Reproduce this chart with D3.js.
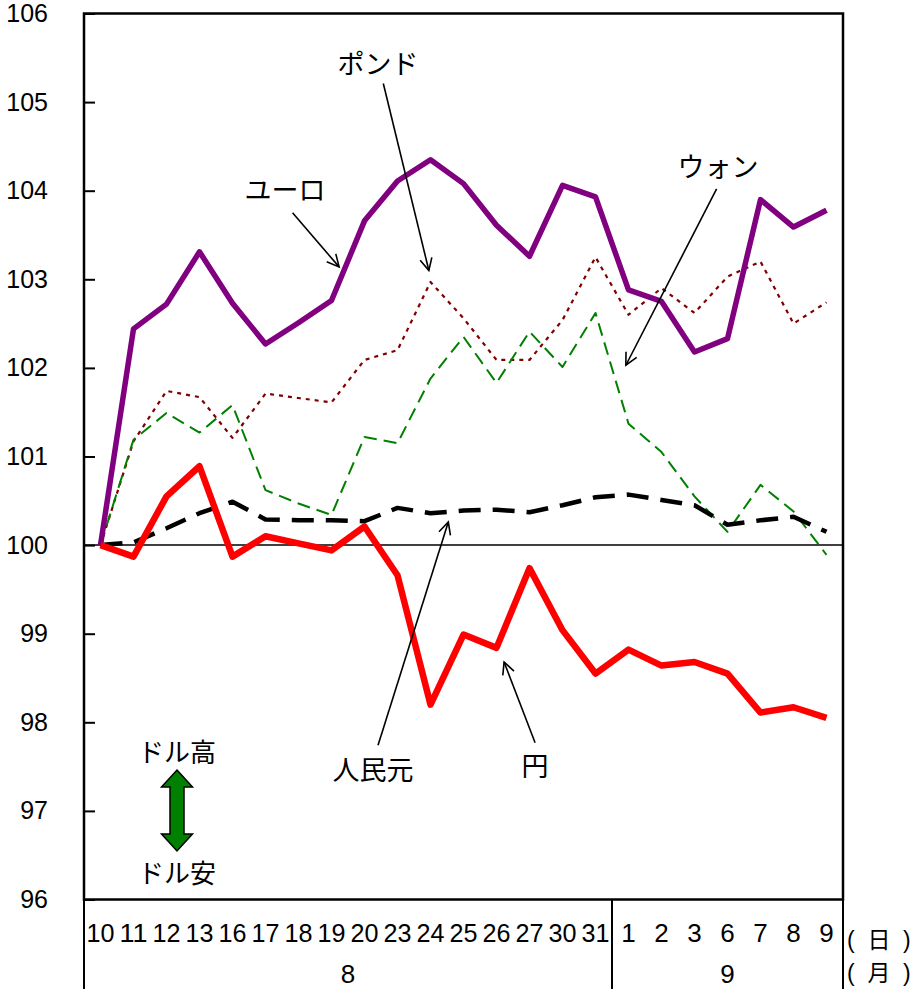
<!DOCTYPE html>
<html>
<head>
<meta charset="utf-8">
<script src="https://cdn.jsdelivr.net/npm/d3@7"></script>
<style>
  body { margin: 0; background: #fff; }
  svg { display: block; }
</style>
</head>
<body>
<svg id="chart" width="914" height="989"></svg>
<script>
// days on the x axis, grouped by month
const days = ["10","11","12","13","16","17","18","19","20","23","24","25","26","27","30","31","1","2","3","6","7","8","9"]
const months = [
  {label: "8", first: 0, last: 15},
  {label: "9", first: 16, last: 22}
]
const yTicks = [96, 97, 98, 99, 100, 101, 102, 103, 104, 105, 106]

// index values (10 Aug = 100)
const euro  = [100, 102.44, 102.72, 103.31, 102.73, 102.27, 102.51, 102.76, 103.66, 104.11, 104.35, 104.08, 103.61, 103.26, 104.06, 103.93, 102.88, 102.75, 102.18, 102.33, 103.90, 103.59, 103.78]
const pound = [100, 101.17, 101.74, 101.67, 101.21, 101.71, 101.66, 101.61, 102.09, 102.20, 102.97, 102.56, 102.09, 102.09, 102.54, 103.25, 102.60, 102.90, 102.62, 103.03, 103.20, 102.50, 102.74]
const won   = [100, 101.19, 101.49, 101.27, 101.58, 100.62, 100.47, 100.34, 101.22, 101.15, 101.88, 102.35, 101.83, 102.41, 102.01, 102.62, 101.37, 101.05, 100.55, 100.15, 100.68, 100.38, 99.89]
const yuan  = [100, 100.03, 100.19, 100.36, 100.49, 100.29, 100.28, 100.28, 100.27, 100.42, 100.36, 100.39, 100.40, 100.37, 100.45, 100.54, 100.57, 100.51, 100.45, 100.23, 100.28, 100.32, 100.15]
const yen   = [100, 99.87, 100.55, 100.89, 99.87, 100.10, 100.02, 99.94, 100.21, 99.66, 98.20, 98.99, 98.84, 99.74, 99.04, 98.55, 98.82, 98.64, 98.68, 98.55, 98.11, 98.17, 98.05]

const plotLeft = 84, plotRight = 843, plotTop = 13.5, plotBottom = 899.5
const numFont = '"Liberation Sans", Arial, sans-serif'
const jpFont = '"Noto Sans CJK JP", "Noto Sans", sans-serif'

const svg = d3.select('#chart')
svg.append('rect').attr('width', 914).attr('height', 989).attr('fill', '#fff')

const x = d3.scaleBand().domain(d3.range(days.length)).range([plotLeft, plotRight]).padding(0)
const xc = i => x(0) + (i + 0.5) * x.bandwidth()   // also works for fractional index
const y = d3.scaleLinear().domain([96, 106]).range([plotBottom, plotTop])

// arrow marker for the labels
svg.append('defs').append('marker')
  .attr('id', 'arrow')
  .attr('markerUnits', 'userSpaceOnUse')
  .attr('markerWidth', 16).attr('markerHeight', 16)
  .attr('viewBox', '0 0 16 16')
  .attr('refX', 13).attr('refY', 8)
  .attr('orient', 'auto')
  .append('path')
  .attr('d', 'M1,2 L13,8 L1,14')
  .attr('fill', 'none')
  .attr('stroke', '#000')
  .attr('stroke-width', 1.6)

// y axis, ticks inside
const yAxis = svg.append('g')
  .attr('transform', `translate(${plotLeft},0)`)
  .call(d3.axisLeft(y).tickValues(yTicks).tickSize(-11).tickPadding(36).tickFormat(d3.format('d')))
yAxis.select('.domain').remove()
yAxis.selectAll('line').attr('stroke', '#000').attr('stroke-width', 2)
yAxis.selectAll('text')
  .attr('font-family', numFont)
  .attr('font-size', 25)
  .attr('fill', '#000')

// 100 baseline
svg.append('line')
  .attr('x1', plotLeft).attr('x2', plotRight)
  .attr('y1', y(100)).attr('y2', y(100))
  .attr('stroke', '#000').attr('stroke-width', 1.5)

// series
const line = d3.line().x((d, i) => xc(i)).y(d => y(d))
const series = [
  {data: pound, color: '#800000', width: 2.2, dash: '4,5'},
  {data: won,   color: '#008000', width: 2,   dash: '13,7'},
  {data: yuan,  color: '#000000', width: 4.5, dash: '22,12'},
  {data: euro,  color: '#800080', width: 5.5, dash: null},
  {data: yen,   color: '#ff0000', width: 6.5, dash: null}
]
svg.selectAll('.series').data(series)
  .join('path')
  .attr('class', 'series')
  .attr('d', d => line(d.data))
  .attr('fill', 'none')
  .attr('stroke', d => d.color)
  .attr('stroke-width', d => d.width)
  .attr('stroke-dasharray', d => d.dash)
  .attr('stroke-linejoin', 'round')

// frame
svg.append('rect')
  .attr('x', plotLeft).attr('y', plotTop)
  .attr('width', plotRight - plotLeft).attr('height', plotBottom - plotTop)
  .attr('fill', 'none').attr('stroke', '#000').attr('stroke-width', 2.5)

// category area separators
const sepX = [plotLeft, x(months[1].first), plotRight]
svg.selectAll('.sep').data(sepX)
  .join('line')
  .attr('class', 'sep')
  .attr('x1', d => d).attr('x2', d => d)
  .attr('y1', plotBottom).attr('y2', 989)
  .attr('stroke', '#000').attr('stroke-width', 2)

// day labels (two-digit ones are squeezed like the original)
svg.selectAll('.day').data(days)
  .join('text')
  .attr('class', 'day')
  .attr('x', (d, i) => xc(i))
  .attr('y', 942)
  .attr('text-anchor', 'middle')
  .attr('font-family', numFont)
  .attr('font-size', 26)
  .attr('textLength', d => d.length > 1 ? 28 : null)
  .attr('lengthAdjust', 'spacingAndGlyphs')
  .text(d => d)

// month labels
svg.selectAll('.month').data(months)
  .join('text')
  .attr('class', 'month')
  .attr('x', d => (x(d.first) + x(d.last) + x.bandwidth()) / 2)
  .attr('y', 983)
  .attr('text-anchor', 'middle')
  .attr('font-family', numFont)
  .attr('font-size', 26)
  .text(d => d.label)

// unit labels
const units = [{t: '日', y: 942}, {t: '月', y: 975}]
units.forEach(u => {
  const g = svg.append('g').attr('font-size', 23).attr('fill', '#000')
  g.append('text').attr('x', 847).attr('y', u.y).attr('dominant-baseline', 'middle')
    .attr('font-family', numFont).text('(')
  g.append('text').attr('x', 879).attr('y', u.y).attr('dominant-baseline', 'middle')
    .attr('text-anchor', 'middle').attr('font-family', jpFont).text(u.t)
  g.append('text').attr('x', 903).attr('y', u.y).attr('dominant-baseline', 'middle')
    .attr('font-family', numFont).text(')')
})

// series labels with arrows (positions in index / value units)
const labels = [
  {text: 'ポンド', lx: 8.41, lv: 105.45, from: [8.57, 105.21], to: [9.95, 103.10]},
  {text: 'ユーロ', lx: 5.59, lv: 104.03, from: [5.82, 103.75], to: [7.23, 103.14]},
  {text: 'ウォン', lx: 18.71, lv: 104.29, from: [18.67, 104.02], to: [15.92, 102.03]},
  {text: '人民元', lx: 8.26, lv: 97.48, from: [8.41, 97.74], to: [10.54, 100.26]},
  {text: '円', lx: 13.17, lv: 97.52, from: [13.17, 97.77], to: [12.23, 98.68]}
]
svg.selectAll('.lab').data(labels)
  .join('text')
  .attr('class', 'lab')
  .attr('x', d => xc(d.lx))
  .attr('y', d => y(d.lv))
  .attr('text-anchor', 'middle')
  .attr('dominant-baseline', 'central')
  .attr('font-family', jpFont)
  .attr('font-size', 27)
  .text(d => d.text)
svg.selectAll('.lab-arrow').data(labels)
  .join('line')
  .attr('class', 'lab-arrow')
  .attr('x1', d => xc(d.from[0])).attr('y1', d => y(d.from[1]))
  .attr('x2', d => xc(d.to[0])).attr('y2', d => y(d.to[1]))
  .attr('stroke', '#000').attr('stroke-width', 1.6)
  .attr('marker-end', 'url(#arrow)')

// dollar strong / weak legend
const cx = 177
svg.append('text').attr('x', cx).attr('y', 750).attr('text-anchor', 'middle')
  .attr('dominant-baseline', 'central').attr('font-family', jpFont).attr('font-size', 26).text('ドル高')
svg.append('text').attr('x', cx).attr('y', 871).attr('text-anchor', 'middle')
  .attr('dominant-baseline', 'central').attr('font-family', jpFont).attr('font-size', 26).text('ドル安')
const arrTop = 770, arrBot = 851, head = 17, hw = 15.5, sw = 7
svg.append('path')
  .attr('d', `M${cx},${arrTop} L${cx + hw},${arrTop + head} L${cx + sw},${arrTop + head} L${cx + sw},${arrBot - head} L${cx + hw},${arrBot - head} L${cx},${arrBot} L${cx - hw},${arrBot - head} L${cx - sw},${arrBot - head} L${cx - sw},${arrTop + head} L${cx - hw},${arrTop + head} Z`)
  .attr('fill', '#008000')
  .attr('stroke', '#000')
  .attr('stroke-width', 1.5)
  .attr('stroke-linejoin', 'miter')
</script>
</body>
</html>
